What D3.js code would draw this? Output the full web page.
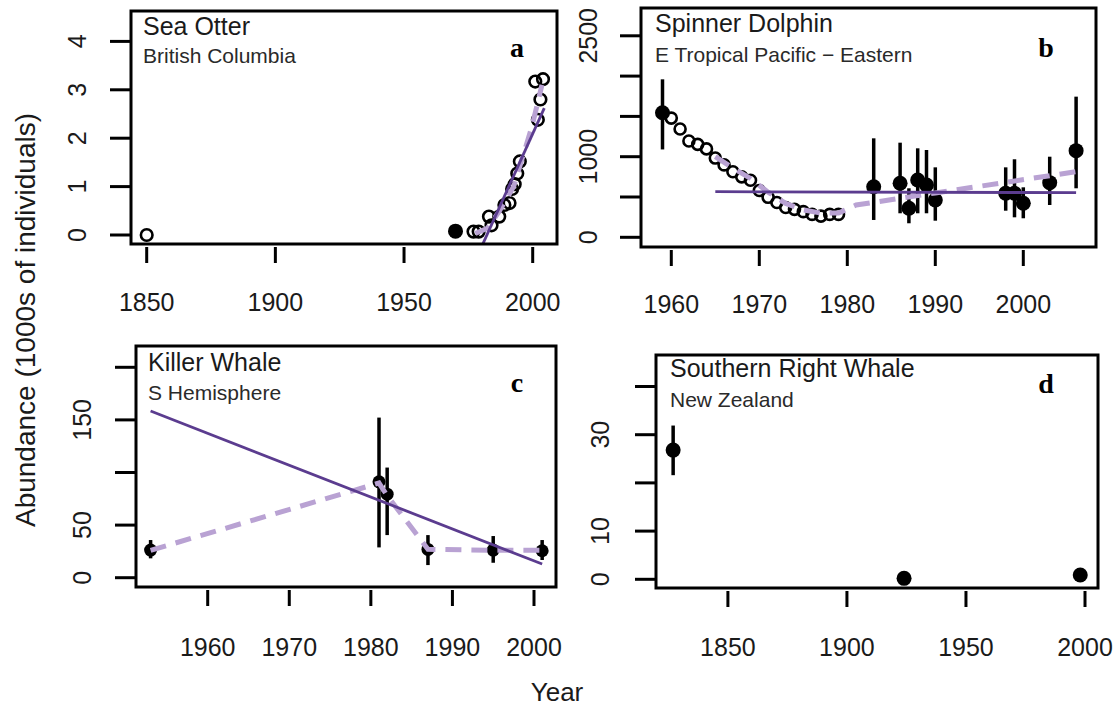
<!DOCTYPE html>
<html>
<head>
<meta charset="utf-8">
<script src="https://cdn.jsdelivr.net/npm/d3@7"></script>
<style>
  body { margin: 0; background: #fff; }
  svg { display: block; }
  text { font-family: "Liberation Sans", Arial, sans-serif; fill: #1a1a1a; }
</style>
</head>
<body>
<svg width="1120" height="708"></svg>
<script>
// ---- data (abundance in 1000s of individuals) ----

// a: Sea Otter, British Columbia
var otterYears   = [1850, 1977, 1979, 1983, 1984, 1987, 1989, 1991, 1992, 1993, 1994, 1995, 2001, 2002, 2003, 2004];
var otterCounts  = [0.0, 0.07, 0.07, 0.38, 0.2, 0.38, 0.62, 0.66, 0.95, 1.05, 1.27, 1.52, 3.17, 2.38, 2.8, 3.22];
var otterEstYears  = [1970];
var otterEstValues = [0.08];
var otterTrendYears  = [1980.5, 2004.5];
var otterTrendValues = [-0.2, 2.62];
var otterFitYears  = [1977.7, 1982.4, 1986.9, 1992.6, 1995.9, 1999.7, 2003.6];
var otterFitValues = [0.03, 0.14, 0.48, 1.0, 1.58, 2.24, 3.1];

// b: Spinner Dolphin, E Tropical Pacific - Eastern
var dolphinYears  = d3.range(1960, 1980);
var dolphinCounts = [1479, 1343, 1195, 1153, 1097, 983, 898, 814, 750, 708, 581, 496, 432, 369, 347, 318, 284, 263, 284, 284];
var dolphinEstYears  = [1959, 1983, 1986, 1987, 1988, 1989, 1990, 1998, 1999, 2000, 2003, 2006];
var dolphinEstValues = [1545, 628, 670, 360, 711, 649, 463, 546, 546, 422, 678, 1075];
var dolphinEstLow    = [1090, 215, 298, 174, 298, 298, 206, 330, 248, 236, 401, 608];
var dolphinEstHigh   = [1960, 1228, 1174, 608, 1104, 1083, 868, 868, 968, 620, 1000, 1745];
var dolphinTrendYears  = [1965, 2006];
var dolphinTrendValues = [566, 554];
var dolphinFitYears  = [1965, 1967, 1969, 1971, 1973, 1975, 1977, 1979, 1981, 1990, 2006];
var dolphinFitValues = [1000, 860, 730, 560, 420, 340, 300, 300, 401, 550, 814];

// c: Killer Whale, S Hemisphere
var orcaEstYears  = [1953, 1981, 1982, 1987, 1995, 2001];
var orcaEstValues = [26.3, 91.1, 79.4, 26.9, 26.3, 25.6];
var orcaEstLow    = [18.4, 28.8, 40.5, 12.0, 14.2, 16.8];
var orcaEstHigh   = [35.8, 152.2, 104.7, 40.5, 39.6, 35.8];
var orcaTrendYears  = [1953, 2001];
var orcaTrendValues = [158.5, 13];
var orcaFitYears  = [1953, 1981, 1982, 1987, 1995, 2001];
var orcaFitValues = [26, 90, 78, 27, 26, 26];

// d: Southern Right Whale, New Zealand
var rightEstYears  = [1827, 1924, 1998];
var rightEstValues = [26.8, 0.2, 0.9];
var rightEstLow    = [21.6, null, null];
var rightEstHigh   = [31.9, null, null];

// ---- axis ticks ----
var xTicksA = [1850, 1900, 1950, 2000];
var yTicksA = [0, 1, 2, 3, 4];
var yLabelsA = [0, 1, 2, 3, 4];
var xTicksB = [1960, 1970, 1980, 1990, 2000];
var yTicksB = [0, 500, 1000, 1500, 2000, 2500];
var yLabelsB = [0, 1000, 2500];
var xTicksC = [1960, 1970, 1980, 1990, 2000];
var yTicksC = [0, 50, 100, 150, 200];
var yLabelsC = [0, 50, 150];
var xTicksD = [1850, 1900, 1950, 2000];
var yTicksD = [0, 10, 20, 30, 40];
var yLabelsD = [0, 10, 30];

function pairs(xs, ys) { return xs.map(function (x, i) { return [x, ys[i]]; }); }
function bars(xs, ys, lo, hi) {
  return xs.map(function (x, i) { return { x: x, y: ys[i], lo: lo[i], hi: hi[i] }; });
}

var panels = [
  { letter: "a", title: "Sea Otter", sub: "British Columbia",
    box: [131, 11, 557, 244], xs: [1850, 146.7, 2000, 532.7], ys: [0, 235, 4, 41.4],
    xTicks: xTicksA, yTicks: yTicksA, yLabels: yLabelsA, yLabelX: 77, xLabelY: 302,
    tx: 143, ty: 35, sy: 63, lx: 517, ly: 57,
    open: pairs(otterYears, otterCounts), openR: 5.8,
    est: bars(otterEstYears, otterEstValues, [null], [null]), estR: 7.5,
    trend: pairs(otterTrendYears, otterTrendValues), fit: pairs(otterFitYears, otterFitValues) },
  { letter: "b", title: "Spinner Dolphin", sub: "E Tropical Pacific \u2212 Eastern",
    box: [641, 8, 1096, 247], xs: [1980, 847.3, 2000, 1023.3], ys: [0, 237.3, 2500, 35.8],
    xTicks: xTicksB, yTicks: yTicksB, yLabels: yLabelsB, yLabelX: 588, xLabelY: 304,
    tx: 655, ty: 32, sy: 62, lx: 1046, ly: 57,
    open: pairs(dolphinYears, dolphinCounts), openR: 5.5,
    est: bars(dolphinEstYears, dolphinEstValues, dolphinEstLow, dolphinEstHigh), estR: 7.5,
    trend: pairs(dolphinTrendYears, dolphinTrendValues), fit: pairs(dolphinFitYears, dolphinFitValues) },
  { letter: "c", title: "Killer Whale", sub: "S Hemisphere",
    box: [136, 346, 556, 587], xs: [1960, 207.7, 2000, 534], ys: [0, 577.7, 200, 367.3],
    xTicks: xTicksC, yTicks: yTicksC, yLabels: yLabelsC, yLabelX: 82, xLabelY: 647,
    tx: 148, ty: 371, sy: 400, lx: 517, ly: 392,
    open: [], openR: 5,
    est: bars(orcaEstYears, orcaEstValues, orcaEstLow, orcaEstHigh), estR: 6.5,
    trend: pairs(orcaTrendYears, orcaTrendValues), fit: pairs(orcaFitYears, orcaFitValues) },
  { letter: "d", title: "Southern Right Whale", sub: "New Zealand",
    box: [656, 355, 1098, 588], xs: [1850, 727.9, 2000, 1085], ys: [0, 579.3, 40, 386.5],
    xTicks: xTicksD, yTicks: yTicksD, yLabels: yLabelsD, yLabelX: 600, xLabelY: 647,
    tx: 670, ty: 377, sy: 407, lx: 1046, ly: 393,
    open: [], openR: 5,
    est: bars(rightEstYears, rightEstValues, rightEstLow, rightEstHigh), estR: 7.5,
    trend: [], fit: [] }
];

var svg = d3.select("svg");
var TREND = "#5b3c8f", FIT = "#b9a2d3";

panels.forEach(function (p, k) {
  var x = d3.scaleLinear().domain([p.xs[0], p.xs[2]]).range([p.xs[1], p.xs[3]]);
  var y = d3.scaleLinear().domain([p.ys[0], p.ys[2]]).range([p.ys[1], p.ys[3]]);
  var b = p.box;
  var g = svg.append("g");

  g.append("clipPath").attr("id", "clip" + k)
    .append("rect").attr("x", b[0]).attr("y", b[1]).attr("width", b[2] - b[0]).attr("height", b[3] - b[1]);

  // y ticks + rotated labels
  g.selectAll(".yt").data(p.yTicks).enter().append("line")
    .attr("x1", b[0] - 21).attr("x2", b[0])
    .attr("y1", function (d) { return y(d); }).attr("y2", function (d) { return y(d); })
    .attr("stroke", "#000").attr("stroke-width", 3);
  g.selectAll(".yl").data(p.yLabels).enter().append("text")
    .attr("transform", function (d) { return "translate(" + p.yLabelX + "," + y(d) + ") rotate(-90)"; })
    .attr("text-anchor", "middle").attr("dominant-baseline", "central")
    .style("font-size", "25px").text(function (d) { return d; });

  // x ticks + labels
  g.selectAll(".xt").data(p.xTicks).enter().append("line")
    .attr("x1", function (d) { return x(d); }).attr("x2", function (d) { return x(d); })
    .attr("y1", b[3] + 3).attr("y2", b[3] + 19)
    .attr("stroke", "#000").attr("stroke-width", 3);
  g.selectAll(".xl").data(p.xTicks).enter().append("text")
    .attr("x", function (d) { return x(d); }).attr("y", p.xLabelY)
    .attr("text-anchor", "middle").attr("dominant-baseline", "central")
    .style("font-size", "25px").text(function (d) { return d; });

  var plot = g.append("g").attr("clip-path", "url(#clip" + k + ")");

  // error bars and estimates
  plot.selectAll(".eb").data(p.est.filter(function (d) { return d.lo != null; })).enter().append("line")
    .attr("x1", function (d) { return x(d.x); }).attr("x2", function (d) { return x(d.x); })
    .attr("y1", function (d) { return y(d.lo); }).attr("y2", function (d) { return y(d.hi); })
    .attr("stroke", "#000").attr("stroke-width", 3.5);
  plot.selectAll(".est").data(p.est).enter().append("circle")
    .attr("cx", function (d) { return x(d.x); }).attr("cy", function (d) { return y(d.y); })
    .attr("r", p.estR).attr("fill", "#000");

  plot.selectAll(".op").data(p.open).enter().append("circle")
    .attr("cx", function (d) { return x(d[0]); }).attr("cy", function (d) { return y(d[1]); })
    .attr("r", p.openR).attr("fill", "none").attr("stroke", "#000").attr("stroke-width", 2.6);

  var line = d3.line().x(function (d) { return x(d[0]); }).y(function (d) { return y(d[1]); });
  if (p.fit.length) {
    plot.append("path").datum(p.fit).attr("d", line)
      .attr("fill", "none").attr("stroke", FIT).attr("stroke-width", 5)
      .attr("stroke-dasharray", "16,10");
  }
  if (p.trend.length) {
    plot.append("path").datum(p.trend).attr("d", line)
      .attr("fill", "none").attr("stroke", TREND).attr("stroke-width", 2.8);
  }

  // frame
  g.append("rect").attr("x", b[0]).attr("y", b[1]).attr("width", b[2] - b[0]).attr("height", b[3] - b[1])
    .attr("fill", "none").attr("stroke", "#000").attr("stroke-width", 3);

  g.append("text").attr("x", p.tx).attr("y", p.ty).style("font-size", "25px").text(p.title);
  g.append("text").attr("x", p.tx).attr("y", p.sy).style("font-size", "21px").style("fill", "#2a2a2a").text(p.sub);
  g.append("text").attr("x", p.lx).attr("y", p.ly).attr("text-anchor", "middle")
    .style("font-family", "'Liberation Serif', 'Times New Roman', serif")
    .style("font-weight", "bold").style("font-size", "28px").style("fill", "#000").text(p.letter);
});

svg.append("text")
  .attr("transform", "translate(25,320) rotate(-90)")
  .attr("text-anchor", "middle").attr("dominant-baseline", "central")
  .style("font-size", "28px").text("Abundance (1000s of individuals)");
svg.append("text")
  .attr("x", 557).attr("y", 701).attr("text-anchor", "middle")
  .style("font-size", "26px").text("Year");
</script>
</body>
</html>
